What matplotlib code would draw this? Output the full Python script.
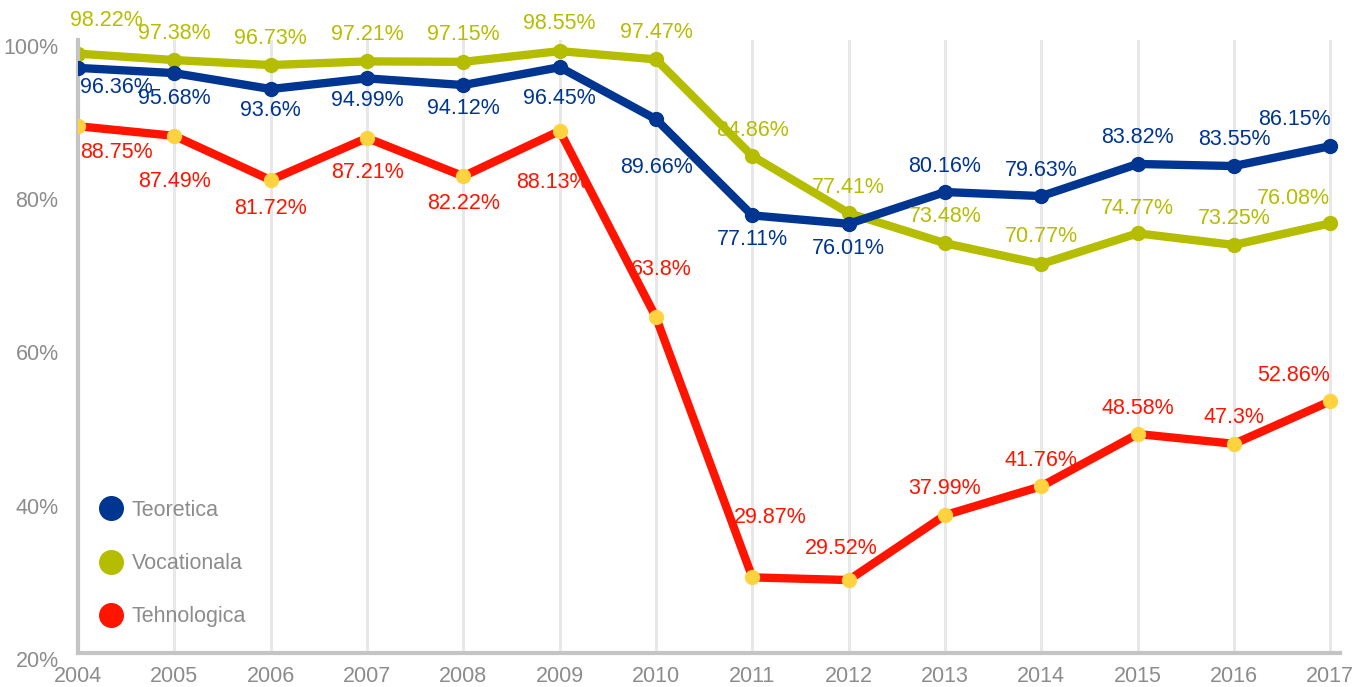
import matplotlib
matplotlib.use("Agg")
import matplotlib.pyplot as plt
import matplotlib.transforms as mtransforms
from matplotlib.lines import Line2D

plt.rcParams['font.family'] = ['Liberation Sans', 'DejaVu Sans']

# data
years = list(range(2004, 2018))
teoretica = [96.36, 95.68, 93.6, 94.99, 94.12, 96.45, 89.66, 77.11, 76.01, 80.16, 79.63, 83.82, 83.55, 86.15]
vocationala = [98.22, 97.38, 96.73, 97.21, 97.15, 98.55, 97.47, 84.86, 77.41, 73.48, 70.77, 74.77, 73.25, 76.08]
tehnologica = [88.75, 87.49, 81.72, 87.21, 82.22, 88.13, 63.8, 29.87, 29.52, 37.99, 41.76, 48.58, 47.3, 52.86]
series_names = ['Teoretica', 'Vocationala', 'Tehnologica']
y_ticks = [20, 40, 60, 80, 100]

# label offsets in pixels (dx, dy) relative to each point
teo_off = [(2, -20), (0, -25), (0, -21), (0, -22), (0, -23), (0, -31), (0, -48), (0, -24),
           (0, -25), (0, 26), (0, 26), (0, 26), (0, 27), (0, 27)]
voc_off = [(-8, 33), (0, 27), (0, 27), (0, 27), (0, 27), (0, 28), (0, 27), (0, 26),
           (0, 26), (0, 27), (0, 27), (0, 25), (0, 26), (0, 25)]
teh_off = [(2, -26), (0, -46), (0, -28), (0, -34), (0, -27), (-7, -52), (5, 48), (18, 60),
           (-7, 32), (0, 27), (0, 26), (0, 26), (0, 26), (0, 26)]

c_teo = '#003591'
c_voc = '#b5bd00'
c_teh = '#ff1400'
c_dot = '#ffd23f'
grey = '#8c8c8c'

fig = plt.figure(figsize=(13.54, 6.87), dpi=100)
ax = fig.add_axes([78 / 1354, 34 / 687, 1262 / 1354, 613 / 687])

ax.set_xlim(2004, 2017.1)
ax.set_ylim(20, 100)

for y in years:
    ax.axvline(y, color='#e8e8e8', lw=2.2, zorder=0)

ax.plot(years, teoretica, color=c_teo, lw=6, marker='o', ms=10, zorder=3)
ax.plot(years, vocationala, color=c_voc, lw=6, marker='o', ms=10, zorder=2)
ax.plot(years, tehnologica, color=c_teh, lw=6, marker='o', ms=10,
        markerfacecolor=c_dot, markeredgecolor=c_dot, zorder=4)

for vals, offs, col in [(teoretica, teo_off, c_teo), (vocationala, voc_off, c_voc),
                        (tehnologica, teh_off, c_teh)]:
    for i, (x, v, (dx, dy)) in enumerate(zip(years, vals, offs)):
        ha = 'left' if i == 0 else ('right' if i == len(years) - 1 else 'center')
        ax.annotate(f"{v:g}%", (x, v), xytext=(dx, dy), textcoords='offset pixels',
                    ha=ha, va='center', color=col, fontsize=15.5, zorder=5,
                    annotation_clip=False)

ax.set_xticks(years)
ax.set_xticklabels([str(y) for y in years])
ax.set_yticks(y_ticks)
ax.set_yticklabels([f"{t}%" for t in y_ticks])
ax.tick_params(axis='both', length=0, labelsize=15.5, labelcolor=grey)
ax.tick_params(axis='x', pad=9)
ax.tick_params(axis='y', pad=14)
off = mtransforms.ScaledTranslation(0, -6 / 100, fig.dpi_scale_trans)
for lab in ax.get_yticklabels():
    lab.set_transform(lab.get_transform() + off)

for s in ['top', 'right']:
    ax.spines[s].set_visible(False)
for s in ['left', 'bottom']:
    ax.spines[s].set_color('#c4c4c4')
    ax.spines[s].set_linewidth(3)

handles = [Line2D([], [], ls='none', marker='o', ms=17, color=c) for c in [c_teo, c_voc, c_teh]]
leg = ax.legend(handles, series_names, loc='lower left', bbox_to_anchor=(-0.002, 0.01),
                frameon=False, fontsize=15.5, labelspacing=1.5, handletextpad=0.2,
                handlelength=1.5)
for t in leg.get_texts():
    t.set_color(grey)

fig.savefig('out.png', dpi=100)
